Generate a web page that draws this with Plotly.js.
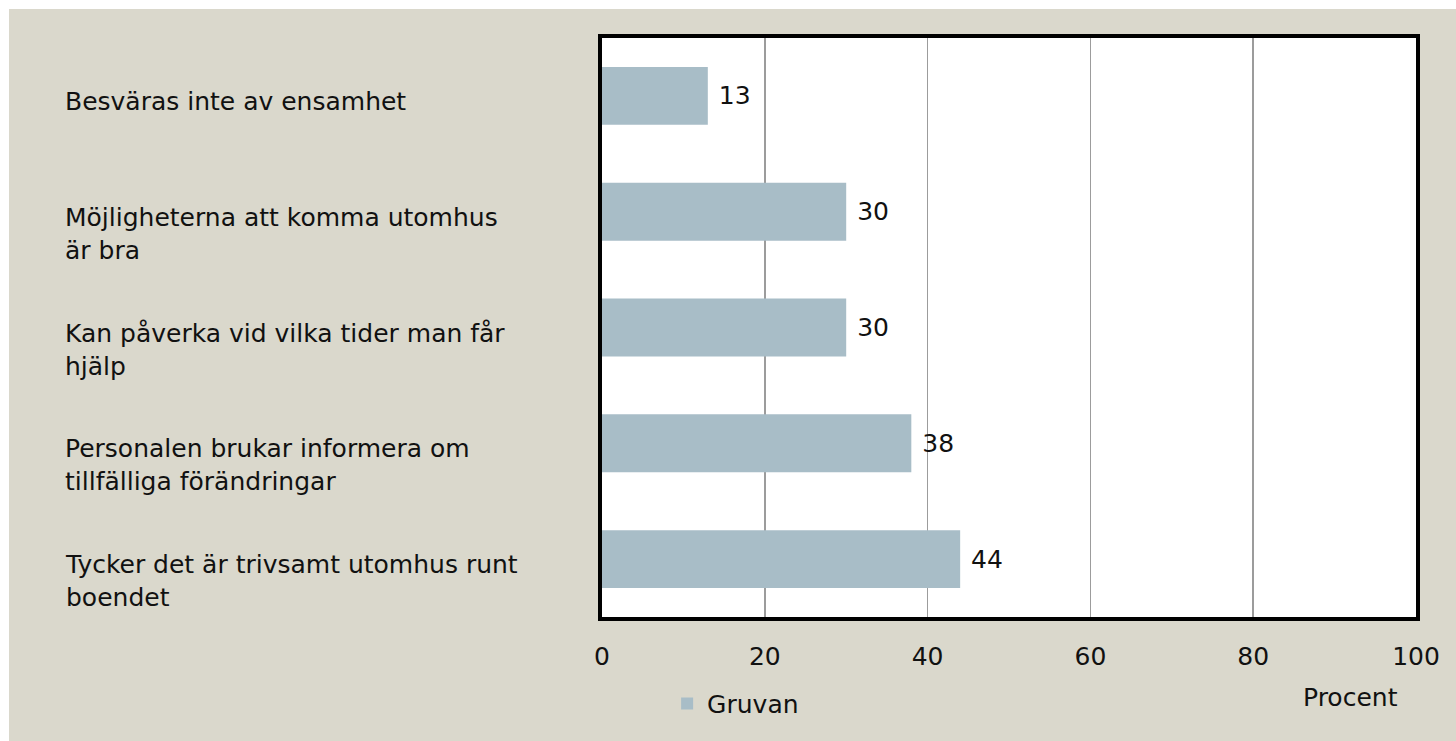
<!DOCTYPE html>
<html>
<head>
<meta charset="utf-8">
<script src="https://cdn.plot.ly/plotly-3.0.1.min.js"></script>
<style>
html,body{margin:0;padding:0;background:#ffffff;}
#chart{position:absolute;left:9px;top:9px;width:1447px;height:732px;}
</style>
</head>
<body>
<div id="chart"></div>
<script>
// Data (top to bottom as shown)
var categories = [
  "Besväras inte av ensamhet",
  "Möjligheterna att komma utomhus<br>är bra",
  "Kan påverka vid vilka tider man får<br>hjälp",
  "Personalen brukar informera om<br>tillfälliga förändringar",
  "Tycker det är trivsamt utomhus runt<br>boendet"
];
var categoryKeys = ["c1","c2","c3","c4","c5"];
var values = [13, 30, 30, 38, 44];
var seriesName = "Gruvan";
var tickValues = [0, 20, 40, 60, 80, 100];
var axisTitle = "Procent";

var FONT = "DejaVu Sans, sans-serif";
var FS = 25;

var trace = {
  type: "bar",
  orientation: "h",
  name: seriesName,
  y: categoryKeys,
  x: values,
  width: 0.5,
  marker: {color: "#a8bdc7"},
  text: values.map(function(v){ return "\u00a0" + v; }),
  textposition: "outside",
  cliponaxis: false,
  textfont: {family: FONT, size: FS, color: "#111111"},
  hoverinfo: "none"
};

var annotations = categories.map(function(c, i){
  return {
    xref: "paper", yref: "y",
    x: 0, y: categoryKeys[i],
    xanchor: "left", yanchor: "top",
    xshift: -539, yshift: 11,
    align: "left",
    showarrow: false,
    text: c,
    font: {family: FONT, size: FS, color: "#111111"}
  };
});
annotations.push({
  xref: "paper", yref: "paper",
  x: 0, y: 0, xshift: 748, yshift: -80,
  xanchor: "center", yanchor: "middle",
  showarrow: false,
  text: axisTitle,
  font: {family: FONT, size: FS, color: "#111111"}
});

var layout = {
  width: 1447, height: 732,
  paper_bgcolor: "#dad8cc",
  plot_bgcolor: "#ffffff",
  margin: {l: 593, r: 40, t: 29, b: 124, pad: 0},
  showlegend: true,
  legend: {
    orientation: "h",
    x: 0.08, y: -0.15, xanchor: "left", yanchor: "middle",
    font: {family: FONT, size: FS, color: "#111111"},
    bgcolor: "rgba(0,0,0,0)"
  },
  xaxis: {
    range: [0, 100],
    tickvals: tickValues,
    ticktext: tickValues.map(String),
    showgrid: true, gridcolor: "#9c9c9c", gridwidth: 1.5,
    zeroline: false,
    showline: true, linecolor: "#000000", linewidth: 4, mirror: true,
    ticks: "outside", ticklen: 14, tickcolor: "rgba(0,0,0,0)",
    tickfont: {family: FONT, size: FS, color: "#111111"},
    fixedrange: true
  },
  yaxis: {
    type: "category",
    categoryorder: "array",
    categoryarray: categoryKeys,
    range: [4.5, -0.5],
    showticklabels: false,
    showgrid: false, zeroline: false,
    showline: true, linecolor: "#000000", linewidth: 4, mirror: true,
    ticks: "",
    fixedrange: true
  },
  bargap: 0.5,
  annotations: annotations
};

Plotly.newPlot("chart", [trace], layout, {displayModeBar: false, staticPlot: true});
</script>
</body>
</html>
